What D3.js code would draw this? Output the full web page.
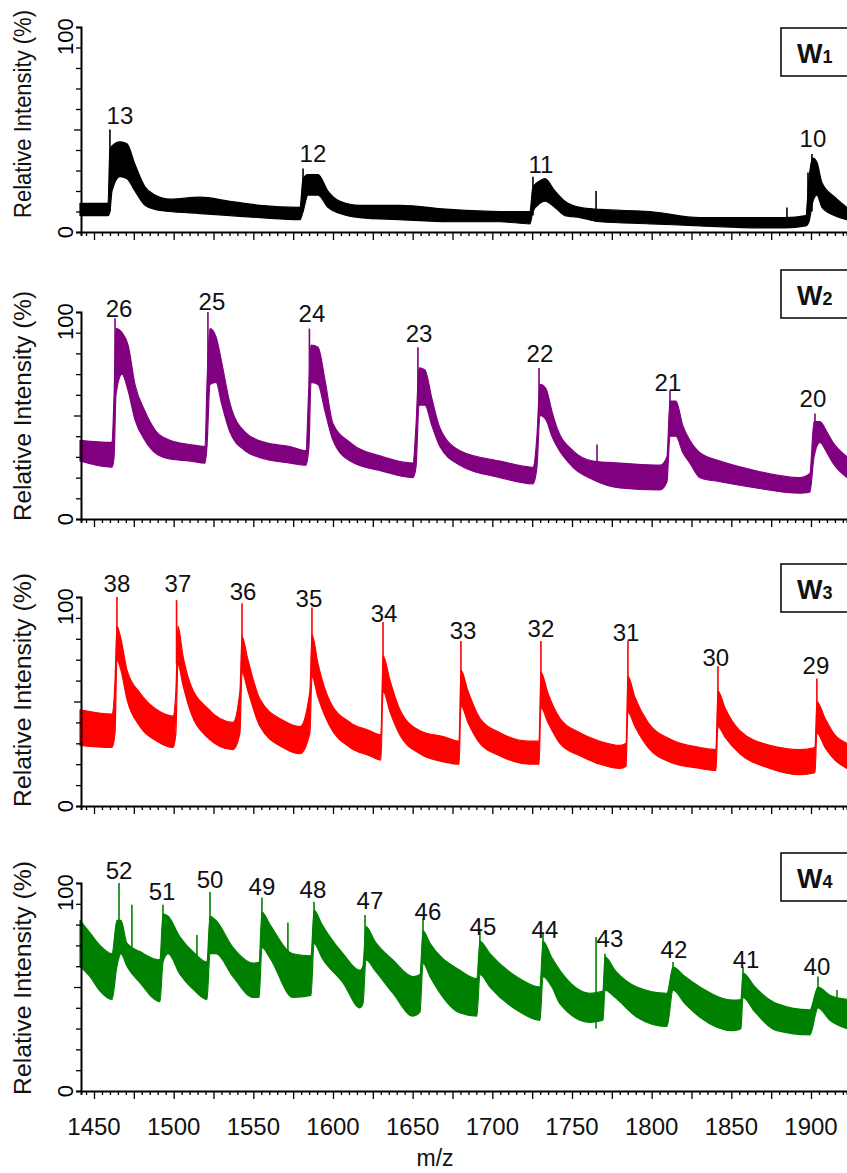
<!DOCTYPE html>
<html>
<head>
<meta charset="utf-8">
<script src="https://cdn.jsdelivr.net/npm/d3@7"></script>
<style>
  body { margin: 0; background: #fff; }
  text { font-family: Arial, "Liberation Sans", sans-serif; }
</style>
</head>
<body>
<div id="viz"></div>
<script>
const width = 847;
const height = 1173;

// noisy trace read as an envelope: [m/z, lower edge %, upper edge %]
const w1Band = [
  [1441.2, 8, 14], [1458.8, 8, 14], [1460.0, 10, 40], [1461.3, 20, 42], [1466.3, 27, 44],
  [1470.7, 26, 43], [1475.7, 20, 33], [1482.0, 13, 22], [1488.3, 11, 18], [1497.7, 10, 16],
  [1516.5, 9, 17], [1535.3, 8, 15], [1554.2, 7, 13], [1579.3, 6, 12], [1581.2, 10, 26],
  [1584.3, 18, 28], [1590.6, 18, 28], [1596.8, 12, 20], [1604.4, 9, 15], [1616.9, 7, 13],
  [1642.0, 6, 13], [1673.4, 5, 11], [1704.8, 5, 10], [1723.6, 4, 10], [1725.5, 10, 22],
  [1729.9, 14, 25], [1733.0, 15, 26], [1739.3, 12, 20], [1745.6, 8, 15], [1755.0, 7, 12],
  [1767.5, 5, 11], [1798.9, 4, 10], [1830.3, 3, 7], [1867.9, 2, 7], [1883.6, 2, 7],
  [1896.8, 3, 8], [1898.7, 5, 26], [1901.2, 15, 36], [1903.7, 18, 34], [1906.9, 12, 24],
  [1915.0, 8, 17], [1922.6, 6, 12]
];
// single sharp lines: [m/z, from %, to %]
const w1Spikes = [
  [1460.0, 10, 50], [1581.2, 10, 31], [1725.5, 8, 27], [1765.1, 5, 20],
  [1884.9, 3, 12], [1898.1, 5, 29], [1900.6, 10, 38]
];
// charge state labels: [text, m/z, height %]
const w1Labels = [["13", 1466.3, 52.7], ["12", 1587.4, 34], ["11", 1730.5, 29], ["10", 1901.2, 41.5]];

const w2Band = [
  [1441.2, 28, 38], [1461.3, 25, 37], [1462.6, 30, 60], [1463.8, 60, 92], [1467.6, 70, 90],
  [1471.4, 62, 84], [1475.7, 48, 65], [1482.0, 38, 52], [1488.3, 32, 43], [1497.7, 29, 38],
  [1510.2, 28, 36], [1519.7, 27, 35], [1520.9, 35, 65], [1522.8, 65, 92], [1526.6, 66, 88],
  [1530.3, 55, 75], [1535.3, 42, 56], [1544.8, 33, 42], [1557.3, 29, 37], [1573.0, 27, 35],
  [1583.0, 26, 33], [1584.9, 35, 65], [1586.2, 66, 84], [1590.6, 65, 83], [1595.0, 52, 67],
  [1600.0, 38, 46], [1610.7, 28, 37], [1631.4, 23, 30], [1650.2, 20, 27], [1652.1, 25, 45],
  [1654.0, 55, 73], [1657.7, 55, 72], [1662.1, 45, 58], [1667.1, 35, 44], [1679.7, 26, 33],
  [1704.8, 20, 28], [1725.5, 17, 25], [1728.0, 25, 40], [1729.9, 50, 65], [1733.6, 48, 63],
  [1737.4, 40, 52], [1740.6, 35, 44], [1750.6, 25, 33], [1763.2, 19, 28], [1780.1, 15, 27],
  [1805.2, 14, 26], [1809.6, 18, 30], [1811.5, 40, 57], [1815.2, 40, 57], [1819.6, 32, 45],
  [1824.0, 27, 38], [1830.3, 20, 32], [1842.9, 18, 28], [1861.7, 15.5, 24], [1893.0, 12.5, 20],
  [1899.3, 13, 22], [1901.9, 30, 47], [1905.6, 37, 47], [1910.0, 32, 42], [1913.8, 27, 37],
  [1922.6, 20, 30]
];
const w2Spikes = [
  [1463.2, 60, 97], [1521.5, 65, 100], [1585.2, 65, 92], [1653.3, 55, 83],
  [1729.3, 50, 73], [1765.7, 22, 36], [1811.5, 40, 62], [1902.5, 37, 51]
];
const w2Labels = [
  ["26", 1465.7, 97.6], ["25", 1524.0, 101], ["24", 1586.8, 95], ["23", 1654.0, 85.5],
  ["22", 1729.9, 76], ["21", 1810.2, 62], ["20", 1901.2, 54]
];

const w3Band = [
  [1441.2, 29, 46], [1461.3, 28, 44], [1463.2, 35, 60], [1464.4, 70, 86], [1466.9, 65, 80],
  [1470.7, 51, 65], [1478.9, 38, 54], [1489.5, 31, 46], [1499.6, 28, 43], [1501.4, 35, 55],
  [1502.7, 68, 86], [1505.8, 58, 72], [1510.2, 46, 59], [1520.9, 33, 47], [1537.2, 27, 40],
  [1541.6, 35, 55], [1542.9, 64, 81], [1546.6, 55, 70], [1554.2, 38, 51], [1568.6, 28, 41],
  [1579.3, 25, 38], [1585.5, 35, 55], [1586.8, 62, 82], [1590.6, 52, 68], [1598.1, 38, 50],
  [1610.7, 28, 40], [1623.2, 24, 36], [1630.1, 22, 34], [1631.4, 55, 72], [1635.8, 45, 60],
  [1642.0, 34, 46], [1654.6, 25, 36], [1670.3, 21, 33], [1679.1, 20, 31], [1680.3, 48, 65],
  [1684.7, 40, 55], [1692.2, 30, 42], [1704.8, 24, 35], [1723.6, 20, 31], [1729.3, 20, 31],
  [1730.5, 47, 64], [1734.9, 40, 54], [1742.4, 30, 42], [1755.0, 24, 35], [1767.5, 20, 31],
  [1780.1, 18, 29], [1783.9, 19, 30], [1785.1, 45, 62], [1789.5, 38, 52], [1797.7, 28, 40],
  [1811.5, 21, 32], [1830.3, 18, 28], [1840.3, 17, 27], [1841.6, 38, 55], [1846.0, 33, 47],
  [1855.4, 25, 36], [1874.2, 18, 29], [1893.0, 15, 27], [1902.5, 16, 28], [1903.7, 35, 50],
  [1908.8, 28, 42], [1915.0, 22, 34], [1922.6, 18, 30]
];
const w3Spikes = [
  [1464.4, 70, 100], [1501.8, 68, 98.5], [1542.9, 64, 97], [1586.8, 62, 95], [1631.4, 55, 88],
  [1680.3, 48, 79], [1730.5, 47, 79], [1765.7, 20, 30], [1785.1, 45, 79], [1841.6, 38, 67],
  [1903.7, 35, 61]
];
const w3Labels = [
  ["38", 1464.4, 102.4], ["37", 1502.7, 102.4], ["36", 1543.5, 98.6], ["35", 1584.9, 95],
  ["34", 1632.0, 88], ["33", 1681.6, 80], ["32", 1730.5, 81], ["31", 1783.9, 79],
  ["30", 1840.3, 67], ["29", 1903.1, 63]
];

const w4Band = [
  [1441.2, 60, 82], [1447.5, 55, 76], [1453.8, 48, 70], [1461.3, 44, 66], [1464.4, 60, 82],
  [1466.9, 66, 82], [1470.7, 60, 71], [1478.9, 52, 67], [1491.4, 43, 63], [1493.3, 62, 85],
  [1496.5, 66, 84], [1504.0, 56, 74], [1513.4, 48, 66], [1520.9, 44, 62], [1522.8, 66, 84],
  [1526.6, 66, 82], [1537.2, 55, 69], [1549.8, 45, 61.5], [1553.6, 45, 62], [1555.4, 69, 86],
  [1560.4, 64, 80], [1574.9, 45, 66], [1586.2, 46, 65], [1588.1, 71, 87], [1593.1, 64, 80],
  [1606.3, 52, 66], [1616.9, 40, 58], [1618.8, 42, 60], [1620.7, 63, 79], [1626.3, 58, 72],
  [1637.6, 47, 63], [1650.2, 36, 55], [1654.6, 38, 56], [1656.5, 61.5, 77], [1660.9, 55, 71],
  [1679.7, 37.5, 58], [1690.3, 36, 54], [1692.2, 56, 72], [1698.5, 50, 66], [1717.3, 38, 54],
  [1729.9, 34, 50], [1731.8, 55, 72], [1737.4, 50, 64], [1742.4, 42, 58], [1761.3, 33, 47],
  [1769.4, 34, 48], [1770.7, 48.5, 64.5], [1777.0, 45, 58], [1790.8, 35.5, 50], [1809.6, 31, 47],
  [1813.4, 48.5, 59.6], [1820.9, 42, 55], [1830.3, 35.5, 50], [1851.0, 29, 43.7], [1856.0, 30, 44],
  [1857.3, 45, 56.7], [1864.8, 38, 50], [1878.6, 29, 42], [1899.3, 27, 39], [1904.4, 40, 50],
  [1911.9, 34, 46], [1922.6, 30, 44]
];
const w4Spikes = [
  [1465.7, 66, 100], [1473.8, 60, 89.5], [1493.3, 62, 89.5], [1514.6, 55, 75], [1522.8, 66, 95.7],
  [1555.4, 69, 93], [1571.7, 55, 81], [1588.1, 71, 91], [1620.1, 63, 84.6], [1656.5, 61.5, 83],
  [1692.2, 56, 77], [1731.8, 55, 76], [1765.1, 30, 74], [1770.7, 48.5, 66], [1813.4, 48.5, 62],
  [1857.3, 45, 59.6], [1904.4, 40, 55], [1916.3, 35, 48.5]
];
const w4Labels = [
  ["52", 1465.7, 102], ["51", 1492.7, 92], ["50", 1522.8, 97.6], ["49", 1555.4, 94],
  ["48", 1587.4, 93], ["47", 1623.2, 87.5], ["46", 1659.6, 82], ["45", 1694.1, 75],
  ["44", 1733.0, 73.5], ["43", 1773.8, 69], ["42", 1814.0, 64], ["41", 1859.2, 59],
  ["40", 1903.7, 56]
];

const xTickLabels = [1450, 1500, 1550, 1600, 1650, 1700, 1750, 1800, 1850, 1900];
const seriesNames = ["1", "2", "3", "4"];

// panel layout (pixels)
const panels = [
  { band: w1Band, spikes: w1Spikes, labels: w1Labels, color: "#000000", top: 27, bottom: 232, boxY: 28, titleMid: 114, titleLen: 208 },
  { band: w2Band, spikes: w2Spikes, labels: w2Labels, color: "#800080", top: 312, bottom: 519, boxY: 270, titleMid: 406, titleLen: 230 },
  { band: w3Band, spikes: w3Spikes, labels: w3Labels, color: "#ff0000", top: 597, bottom: 806, boxY: 564, titleMid: 690, titleLen: 234 },
  { band: w4Band, spikes: w4Spikes, labels: w4Labels, color: "#008000", top: 883, bottom: 1091, boxY: 853, titleMid: 978, titleLen: 234 }
];

const svg = d3.select("#viz")
  .append("svg")
  .attr("width", width)
  .attr("height", height);

// x scale: 1450 sits at 94px, 1900 at 811px; axis runs from the y axis to the right edge
const xRef = d3.scaleLinear().domain([1450, 1900]).range([94, 811]);
const x = d3.scaleLinear().domain([xRef.invert(81), xRef.invert(847)]).range([81, 847]);

panels.forEach((p, i) => {
  const y = d3.scaleLinear().domain([0, 100]).range([p.bottom, p.top]);
  const g = svg.append("g");

  // trace
  const area = d3.area()
    .curve(d3.curveMonotoneX)
    .x(d => x(d[0]))
    .y0(d => y(d[1]))
    .y1(d => y(d[2]));

  g.append("path")
    .datum(p.band)
    .attr("d", area)
    .attr("fill", p.color)
    .attr("stroke", p.color)
    .attr("stroke-width", 1.2)
    .attr("stroke-linejoin", "round");

  g.selectAll(".spike")
    .data(p.spikes)
    .join("line")
    .attr("x1", d => x(d[0]))
    .attr("x2", d => x(d[0]))
    .attr("y1", d => y(d[1]))
    .attr("y2", d => y(d[2]))
    .attr("stroke", p.color)
    .attr("stroke-width", 1.6);

  // charge state labels
  g.selectAll(".peak")
    .data(p.labels)
    .join("text")
    .attr("x", d => x(d[1]))
    .attr("y", d => y(d[2]))
    .attr("text-anchor", "middle")
    .attr("font-size", "24px")
    .attr("fill", "#111")
    .text(d => d[0]);

  // x axis with 5 / 25 ticks
  const xAxis = d3.axisBottom(x)
    .tickValues(d3.range(1445, 1925, 5))
    .tickSizeOuter(0)
    .tickSize(4)
    .tickFormat("");
  const gx = g.append("g")
    .attr("transform", `translate(0,${p.bottom})`)
    .call(xAxis);
  gx.select(".domain").attr("stroke-width", 2);
  gx.selectAll(".tick line")
    .attr("stroke-width", 1.3)
    .attr("y2", d => d % 25 === 0 ? 8 : 4);

  // y axis
  const yAxis = d3.axisLeft(y)
    .tickValues(d3.range(0, 101, 10))
    .tickSizeOuter(0)
    .tickSize(5)
    .tickFormat("");
  const gy = g.append("g")
    .attr("transform", `translate(81,0)`)
    .call(yAxis);
  gy.select(".domain").attr("stroke-width", 2);
  gy.selectAll(".tick line")
    .attr("stroke-width", 1.3)
    .attr("x2", d => d === 50 ? -7 : -5);

  // rotated 0 / 100 labels
  g.append("text")
    .attr("transform", `translate(73,${y(0)}) rotate(-90)`)
    .attr("text-anchor", "middle")
    .attr("font-size", "22px")
    .text("0");
  g.append("text")
    .attr("transform", `translate(73,${y(100) + 28}) rotate(-90)`)
    .attr("text-anchor", "start")
    .attr("font-size", "22px")
    .text("100");

  // axis title
  g.append("text")
    .attr("transform", `translate(31,${p.titleMid}) rotate(-90)`)
    .attr("text-anchor", "middle")
    .attr("font-size", "23px")
    .attr("textLength", p.titleLen)
    .attr("lengthAdjust", "spacingAndGlyphs")
    .attr("fill", "#111")
    .text("Relative Intensity (%)");

  // series box
  g.append("rect")
    .attr("x", 781)
    .attr("y", p.boxY)
    .attr("width", 90)
    .attr("height", 48)
    .attr("fill", "#fff")
    .attr("stroke", "#000")
    .attr("stroke-width", 1.5);
  const t = g.append("text")
    .attr("x", 797)
    .attr("y", p.boxY + 35)
    .attr("font-weight", "bold")
    .attr("fill", "#111");
  t.append("tspan").attr("font-size", "27px").text("W");
  t.append("tspan").attr("font-size", "18px").text(seriesNames[i]);

  // m/z tick labels on the last panel only
  if (i === panels.length - 1) {
    g.selectAll(".xlab")
      .data(xTickLabels)
      .join("text")
      .attr("x", d => x(d))
      .attr("y", p.bottom + 44)
      .attr("text-anchor", "middle")
      .attr("font-size", "24px")
      .attr("fill", "#111")
      .text(d => d);

    g.append("text")
      .attr("x", 435)
      .attr("y", p.bottom + 75)
      .attr("text-anchor", "middle")
      .attr("font-size", "23px")
      .attr("fill", "#111")
      .text("m/z");
  }
});
</script>
</body>
</html>
